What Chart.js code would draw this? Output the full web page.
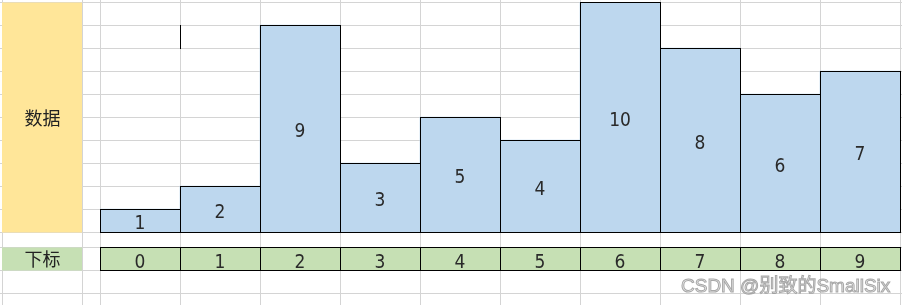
<!DOCTYPE html>
<html><head><meta charset="utf-8">
<script src="https://cdn.jsdelivr.net/npm/chart.js@4/dist/chart.umd.min.js"></script>
<style>html,body{margin:0;padding:0;background:#fff}#wrap{width:902px;height:305px}</style>
</head><body><div id="wrap"><canvas id="c" width="902" height="305"></canvas></div>
<script>
const categories = ['0','1','2','3','4','5','6','7','8','9'];
const values = [1, 2, 9, 3, 5, 4, 10, 8, 6, 7];
const yTicks = [0,1,2,3,4,5,6,7,8,9,10];
const dataLabel = '数据';
const indexLabel = '下标';
const watermark = 'CSDN @别致的SmallSix';

const CJK = '"Microsoft YaHei","Noto Sans CJK SC",sans-serif';
const NUM = '"Liberation Sans Narrow","Arial Narrow","DejaVu Sans Condensed",sans-serif';
const GRID = '#d4d4d4';

const sheet = {
  id: 'sheet',
  beforeDraw(chart) {
    const {ctx, scales:{x, y}} = chart;
    const W = chart.width, H = chart.height;
    ctx.save();
    ctx.fillStyle = '#fff'; ctx.fillRect(0,0,W,H);
    const rowH = y.getPixelForValue(0) - y.getPixelForValue(1);
    const bottom = y.getPixelForValue(0);
    const gapRow = 15;
    ctx.strokeStyle = GRID; ctx.lineWidth = 1;
    ctx.beginPath();
    yTicks.forEach(v => { const p = Math.round(y.getPixelForValue(v)) + 0.5; ctx.moveTo(0,p); ctx.lineTo(W,p); });
    for (let k = 0; k < 4; k++) { const p = Math.round(bottom + gapRow + k*rowH) + 0.5; ctx.moveTo(0,p); ctx.lineTo(W,p); }
    const half = (x.getPixelForValue(1) - x.getPixelForValue(0)) / 2;
    const vx = [2, 82];
    categories.forEach((c,i) => { if (i===0) vx.push(x.getPixelForValue(i)-half); vx.push(x.getPixelForValue(i)+half); });
    vx.forEach(v => { const p = Math.round(v) + 0.5; ctx.moveTo(p,0); ctx.lineTo(p,H); });
    ctx.stroke();
    const top = y.getPixelForValue(10);
    ctx.fillStyle = '#ffe699';
    ctx.fillRect(2, Math.round(top)+0.5, 80, Math.round(bottom - top));
    const gTop = Math.round(bottom + gapRow) + 0.5;
    ctx.fillStyle = '#c6e0b4';
    ctx.fillRect(2, gTop, 80, rowH);
    ctx.fillStyle = '#222';
    ctx.font = '18px ' + CJK;
    ctx.textAlign = 'center'; ctx.textBaseline = 'middle';
    ctx.fillText(dataLabel, 42.5, (top + bottom)/2 + 1);
    ctx.fillText(indexLabel, 42.5, gTop + rowH/2 + 0.5);
    ctx.restore();
  },
  afterDatasetsDraw(chart) {
    const {ctx, scales:{x, y}} = chart;
    const meta = chart.getDatasetMeta(0);
    const rowH = y.getPixelForValue(0) - y.getPixelForValue(1);
    const bottom = y.getPixelForValue(0);
    const gTop = Math.round(bottom + 15) + 0.5;
    ctx.save();
    ctx.strokeStyle = '#000'; ctx.lineWidth = 1;
    ctx.font = '19px ' + NUM;
    ctx.textAlign = 'center'; ctx.textBaseline = 'alphabetic';
    meta.data.forEach((el, i) => {
      const l = Math.round(el.x - el.width/2) + 0.5;
      const r = Math.round(el.x + el.width/2) + 0.5;
      const t = Math.round(el.y) + 0.5;
      const b = Math.round(el.base) + 0.5;
      ctx.strokeRect(l, t, r-l, b-t);
      ctx.fillStyle = '#2a2a2a';
      ctx.fillText(String(values[i]), el.x, (el.y + el.base)/2 + 8.7);
      ctx.fillStyle = '#c6e0b4';
      ctx.fillRect(l, gTop, r-l, rowH);
      ctx.strokeRect(l, gTop, r-l, rowH);
      ctx.fillStyle = '#2a2a2a';
      ctx.fillText(categories[i], el.x, gTop + rowH/2 + 8.7);
    });
    const sx = Math.round((x.getPixelForValue(0)+x.getPixelForValue(1))/2) + 0.5;
    ctx.beginPath(); ctx.moveTo(sx, Math.round(y.getPixelForValue(9))); ctx.lineTo(sx, Math.round(y.getPixelForValue(8))+1); ctx.stroke();
    // watermark
    ctx.font = '19px "Liberation Sans","Noto Sans CJK SC",sans-serif';
    ctx.textAlign = 'left';
    ctx.lineWidth = 1; ctx.strokeStyle = 'rgba(140,140,140,0.75)';
    ctx.fillStyle = 'rgba(235,235,235,0.9)';
    ctx.fillText(watermark, 681, 292);
    ctx.strokeText(watermark, 681, 292);
    ctx.restore();
  }
};

new Chart(document.getElementById('c'), {
  type: 'bar',
  data: { labels: categories, datasets: [{ data: values, backgroundColor: '#bdd7ee', borderWidth: 0, barPercentage: 1, categoryPercentage: 1 }] },
  options: {
    responsive: false, animation: false,
    layout: { padding: { left: 100, right: 2, top: 2, bottom: 73 } },
    plugins: { legend: { display: false }, tooltip: { enabled: false } },
    scales: {
      x: { display: false },
      y: { display: false, min: 0, max: 10 }
    }
  },
  plugins: [sheet]
});
</script></body></html>
